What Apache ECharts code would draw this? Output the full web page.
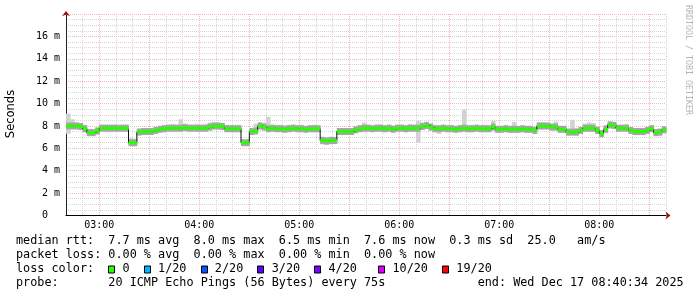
<!DOCTYPE html>
<html><head><meta charset="utf-8">
<script src="https://cdn.jsdelivr.net/npm/echarts@6/dist/echarts.min.js"></script>
<style>html,body{margin:0;padding:0;background:#fff}#c{width:697px;height:297px}</style>
</head><body><div id="c"></div>
<script>
// ---- data (minutes after 02:40, 2.5-minute samples) ----
const STEP_MIN = 2.5;
const medianRtt = [
8.0,8.0,8.0,7.95,7.75,7.4,7.4,7.55,7.8,7.8,7.8,7.8,7.8,7.8,7.8,6.5,6.5,7.45,7.5,7.5,
7.5,7.6,7.7,7.75,7.8,7.8,7.8,7.8,7.85,7.8,7.8,7.8,7.8,7.8,7.9,8.0,8.0,7.95,7.75,7.75,
7.75,7.75,6.5,6.5,7.5,7.55,8.0,7.9,7.75,7.8,7.75,7.75,7.7,7.75,7.8,7.75,7.75,7.7,7.75,7.75,
7.75,6.7,6.65,6.7,6.7,7.5,7.5,7.5,7.5,7.65,7.75,7.8,7.8,7.75,7.8,7.8,7.75,7.8,7.7,7.8,
7.8,7.75,7.8,7.8,7.8,7.95,8.05,7.9,7.75,7.75,7.8,7.75,7.75,7.7,7.75,7.8,7.75,7.75,7.8,7.75,
7.75,7.75,7.9,7.7,7.7,7.75,7.7,7.7,7.7,7.75,7.7,7.7,7.6,8.0,8.0,8.0,7.9,7.9,7.7,7.7,
7.45,7.45,7.45,7.6,7.8,7.8,7.8,7.6,7.3,7.7,8.1,8.05,7.8,7.8,7.8,7.6,7.5,7.5,7.5,7.6,
7.75,7.4,7.45,7.65];
const smokeLow = [
7.3,7.7,7.75,7.7,7.45,7.15,7.1,7.25,7.55,7.55,7.5,7.55,7.55,7.5,7.5,6.2,6.25,7.2,7.25,7.25,
7.25,7.35,7.45,7.5,7.55,7.5,7.55,7.5,7.55,7.5,7.55,7.5,7.55,7.5,7.6,7.7,7.7,7.65,7.5,7.45,
7.5,7.45,6.25,6.25,7.2,7.3,7.7,7.6,7.5,7.5,7.45,7.5,7.45,7.45,7.5,7.5,7.45,7.45,7.5,7.45,
7.5,6.35,6.3,6.35,6.4,7.2,7.25,7.2,7.25,7.4,7.5,7.5,7.55,7.5,7.5,7.55,7.45,7.5,7.45,7.5,
7.55,7.45,7.5,7.5,6.5,7.65,7.75,7.6,7.45,7.3,7.5,7.45,7.5,7.45,7.45,7.5,7.45,7.5,7.5,7.45,
7.5,7.45,7.6,7.4,7.45,7.45,7.4,7.45,7.4,7.45,7.4,7.45,7.3,7.7,7.7,7.7,7.6,7.6,7.4,7.4,
7.15,7.2,7.15,7.3,7.5,7.5,7.5,7.3,7.05,7.4,7.8,7.75,7.5,7.55,7.5,7.3,7.2,7.25,7.2,7.3,
7.45,7.1,7.15,7.35];
const smokeHigh = [
9.1,8.6,8.3,8.25,8.1,7.75,7.7,7.85,8.1,8.1,8.05,8.1,8.05,8.1,8.1,6.9,6.85,7.75,7.8,7.8,
7.75,7.9,8.0,8.05,8.1,8.15,8.1,8.6,8.2,8.1,8.1,8.15,8.1,8.15,8.3,8.3,8.25,8.2,8.05,8.05,
8.05,8.1,6.75,6.7,7.8,8.2,8.3,8.3,8.8,8.1,8.05,8.1,8.05,8.1,8.1,8.05,8.1,8.0,8.05,8.1,
8.05,7.05,7.0,7.05,7.0,7.8,7.8,7.75,7.8,7.95,8.05,8.3,8.1,8.05,8.1,8.15,8.05,8.1,8.05,8.1,
8.1,8.05,8.15,8.1,8.45,8.3,8.35,8.2,8.1,8.05,8.1,8.05,8.1,8.0,8.1,9.45,8.05,8.1,8.1,8.05,
8.1,8.05,8.45,8.0,8.0,8.05,8.0,8.35,8.0,8.05,8.0,8.0,7.9,8.3,8.3,8.25,8.2,8.4,8.0,8.0,
7.75,8.55,7.8,7.9,8.2,8.3,8.25,7.9,7.65,8.1,8.35,8.35,8.1,8.1,8.15,7.9,7.8,7.8,7.8,7.9,
8.05,7.7,7.75,7.95];
const sampleMinutes = medianRtt.map((_, i) => i * STEP_MIN);

const axisStartMin = 2 * 60 + 40;   // 02:40
const axisSpanMin = 360;            // 6 hours
const hourLabels = ['03:00','04:00','05:00','06:00','07:00','08:00'];
const yMax = 18;
const yLabelMax = 16;

const statLines = [
  'median rtt:  7.7 ms avg  8.0 ms max  6.5 ms min  7.6 ms now  0.3 ms sd  25.0   am/s',
  'packet loss: 0.00 % avg  0.00 % max  0.00 % min  0.00 % now'
];
const lossLabels = ['0','1/20','2/20','3/20','4/20','10/20','19/20'];
const lossColors = ['#26ff00','#00b8ff','#0059ff','#5e00ff','#7e00ff','#dd00ff','#ff0000'];
const probeText = '20 ICMP Echo Pings (56 Bytes) every 75s';
const endText = 'end: Wed Dec 17 08:40:34 2025';
const watermark = 'RRDTOOL / TOBI OETIKER';

// ---- build ----
const pad2 = n => String(n).padStart(2, '0');
const minuteCats = [];
for (let m = 0; m <= axisSpanMin; m++) {
  const t = axisStartMin + m;
  minuteCats.push(pad2(Math.floor(t / 60) % 24) + ':' + pad2(t % 60));
}
const mm = v => parseInt(v.slice(3), 10);

const MONO = '"DejaVu Sans Mono", monospace';
const FS = 11.8;
const mctx = document.createElement('canvas').getContext('2d');
mctx.font = FS + 'px ' + MONO;
const CW = mctx.measureText('M').width;

let lossLine = 'loss color:  ';
const lossCols = [];
const gaps = [2, 2, 2, 2, 3, 2, 0];
lossLabels.forEach((l, k) => { lossCols.push(lossLine.length); lossLine += '  ' + l + ' '.repeat(gaps[k]); });
let probeLine = 'probe:       ' + probeText;
probeLine = probeLine.padEnd(65, ' ') + endText;

const TX = 16;
const lineY = [241, 255, 269, 283];
const graphics = [];
[statLines[0], statLines[1], lossLine, probeLine].forEach((t, i) => {
  graphics.push({type: 'text', x: TX, y: lineY[i], silent: true,
    style: {text: t, font: FS + 'px ' + MONO, fill: '#000', textAlign: 'left', textVerticalAlign: 'middle'}});
});
lossCols.forEach((c, k) => {
  graphics.push({type: 'rect', silent: true,
    shape: {x: Math.round(TX + c * CW) + 0.5, y: 266, width: 6, height: 7},
    style: {fill: lossColors[k], stroke: '#000', lineWidth: 1}});
});
graphics.push({type: 'text', x: 11, y: 114, rotation: Math.PI / 2, silent: true,
  style: {text: 'Seconds', font: '11.5px "DejaVu Sans", sans-serif', fill: '#000', textAlign: 'center', textVerticalAlign: 'middle'}});
graphics.push({type: 'text', x: 688, y: 5, rotation: -Math.PI / 2, silent: true,
  style: {text: watermark, font: '8.3px ' + MONO, fill: '#b4b4b4', textAlign: 'left', textVerticalAlign: 'middle'}});

const GRID = {left: 66, right: 31, top: 14, bottom: 81.5};
const dotted = [1, 1];
const MAIN_Y = 2;
const MAJOR = '#f3b6b6';
const MINOR = '#d6d6d6';

const smokeData = sampleMinutes.map((m, i) => [m, smokeLow[i], smokeHigh[i]]);
const medData = sampleMinutes.map((m, i) => [m, medianRtt[i]]);

const option = {
  animation: false,
  backgroundColor: '#fff',
  grid: GRID,
  graphic: graphics,
  xAxis: [
    {type: 'value', min: 0, max: axisSpanMin, show: false, position: 'bottom'},
    {type: 'category', data: minuteCats, boundaryGap: false, position: 'bottom',
      axisLine: {show: false}, axisTick: {show: false}, axisLabel: {show: false},
      splitLine: {show: true, interval: (i, v) => mm(v) % 10 === 0, lineStyle: {color: MINOR, type: dotted, width: 1}}},
    {type: 'category', data: minuteCats, boundaryGap: false, position: 'bottom',
      axisLine: {show: false}, axisTick: {show: false}, axisLabel: {show: false},
      splitLine: {show: true, interval: (i, v) => mm(v) % 30 === 0, lineStyle: {color: MAJOR, type: dotted, width: 1}}},
    {type: 'category', data: minuteCats, boundaryGap: false, position: 'bottom',
      axisLine: {show: true, symbol: ['none', 'arrow'], symbolSize: [6, 5], symbolOffset: [0, 4.5],
        lineStyle: {color: '#a01010', width: 0.5}},
      axisTick: {show: false}, axisLabel: {show: false}, splitLine: {show: false}},
    {type: 'category', data: minuteCats, boundaryGap: false, position: 'bottom',
      axisLine: {show: true, lineStyle: {color: '#000', width: 1}},
      axisTick: {show: false},
      axisLabel: {show: true, interval: (i, v) => hourLabels.includes(v), margin: 5,
        fontFamily: MONO, fontSize: 10, color: '#000'},
      splitLine: {show: false}}
  ],
  yAxis: [
    {type: 'value', min: 0, max: yMax, interval: 2, position: 'left',
      axisLine: {show: true, symbol: ['none', 'arrow'], symbolSize: [6, 5], symbolOffset: [0, 3],
        lineStyle: {color: '#a01010', width: 0.5}},
      axisTick: {show: false}, axisLabel: {show: false}, splitLine: {show: false}},
    {type: 'value', min: 0, max: yMax, interval: 0.5, position: 'left',
      axisLine: {show: false}, axisTick: {show: false}, axisLabel: {show: false},
      splitLine: {show: true, lineStyle: {color: MINOR, type: dotted, width: 1}}},
    {type: 'value', min: 0, max: yMax, interval: 2, position: 'left',
      axisLine: {show: true, lineStyle: {color: '#222', width: 1}},
      axisTick: {show: false},
      axisLabel: {margin: 6, fontFamily: MONO, fontSize: 10, color: '#000',
        formatter: v => v === 0 ? '0  ' : (v > yLabelMax ? '' : v + ' m')},
      splitLine: {show: true, lineStyle: {color: MAJOR, type: dotted, width: 1}}}
  ],
  series: [
    {type: 'custom', name: 'smoke', xAxisIndex: 0, yAxisIndex: MAIN_Y, z: 2, silent: true,
      data: smokeData, encode: {x: 0, y: [1, 2]},
      renderItem: (params, api) => {
        const a = api.coord([api.value(0), api.value(2)]);
        const b = api.coord([api.value(0) + STEP_MIN, api.value(1)]);
        return {type: 'rect', shape: {x: a[0], y: a[1], width: b[0] - a[0] + 0.4, height: b[1] - a[1]}, style: {fill: '#d2d2d2'}};
      }},
    {type: 'custom', name: 'smoke-core', xAxisIndex: 0, yAxisIndex: MAIN_Y, z: 3, silent: true,
      data: medData, encode: {x: 0, y: 1},
      renderItem: (params, api) => {
        const a = api.coord([api.value(0), api.value(1)]);
        const b = api.coord([api.value(0) + STEP_MIN, api.value(1)]);
        return {type: 'rect', shape: {x: a[0], y: a[1] - 3.5, width: b[0] - a[0] + 0.4, height: 7}, style: {fill: '#a6a6a6'}};
      }},
    {type: 'line', name: 'median-edge', xAxisIndex: 0, yAxisIndex: MAIN_Y, z: 4, silent: true,
      data: medData, step: 'end', showSymbol: false, symbol: 'none',
      lineStyle: {color: '#111', width: 1}},
    {type: 'custom', name: 'median', xAxisIndex: 0, yAxisIndex: MAIN_Y, z: 5, silent: true,
      data: medData, encode: {x: 0, y: 1},
      renderItem: (params, api) => {
        const a = api.coord([api.value(0), api.value(1)]);
        const b = api.coord([api.value(0) + STEP_MIN, api.value(1)]);
        return {type: 'rect', shape: {x: a[0], y: a[1] - 1.5, width: b[0] - a[0] + 0.3, height: 3}, style: {fill: lossColors[0]}};
      }}
  ]
};
echarts.init(document.getElementById('c'), null, {renderer: 'canvas'}).setOption(option);
</script>
</body></html>
